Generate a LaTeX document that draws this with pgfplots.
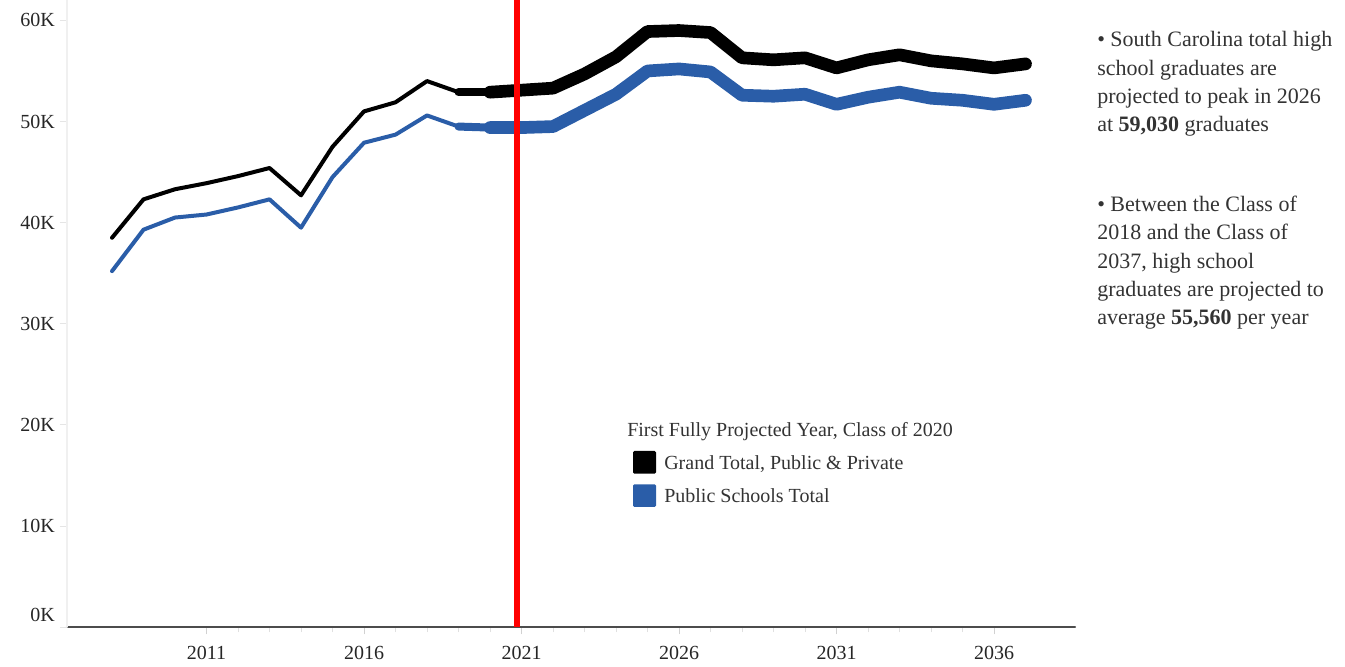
\documentclass[border=0pt]{standalone}
\usepackage{fontspec}
\setmainfont{Liberation Serif}
\usepackage{pgfplots}
\usepackage{pgfplotstable}
\pgfplotsset{compat=1.18}
\definecolor{pubblue}{RGB}{42,93,168}
\definecolor{projred}{RGB}{255,0,0}
\definecolor{txtgray}{RGB}{51,51,51}

% graduates in thousands
\pgfplotstableread{
year total public
2008 38.5 35.2
2009 42.3 39.3
2010 43.3 40.5
2011 43.9 40.8
2012 44.6 41.5
2013 45.4 42.3
2014 42.7 39.5
2015 47.5 44.5
2016 51.0 47.9
2017 51.9 48.7
2018 54.0 50.6
2019 52.9 49.5
2020 52.9 49.4
2021 53.1 49.4
2022 53.3 49.5
2023 54.7 51.1
2024 56.4 52.7
2025 58.9 55.0
2026 59.0 55.2
2027 58.8 54.9
2028 56.3 52.6
2029 56.1 52.5
2030 56.3 52.7
2031 55.3 51.7
2032 56.1 52.4
2033 56.6 52.9
2034 56.0 52.3
2035 55.7 52.1
2036 55.3 51.7
2037 55.7 52.1
}\gradtable

\newcommand{\tickfont}{\fontsize{15}{18}\selectfont}
\newcommand{\notefont}{\fontsize{16.5}{21.25}\selectfont}

\begin{document}
\begin{tikzpicture}
\begin{axis}[
  at={(0pt,0pt)}, anchor=south west,
  scale only axis, width=756pt, height=470.25pt,
  xmin=2006.571, xmax=2038.571, ymin=0, ymax=62.02,
  axis x line*=bottom, axis y line*=left,
  x axis line style={black!70, line width=1.6pt, -},
  y axis line style={black!6, line width=0.8pt, -},
  xtick={2011,2016,2021,2026,2031,2036},
  xticklabels={2011,2016,2021,2026,2031,2036},
  minor x tick num=4,
  ytick={10,20,30,40,50,60},
  yticklabels={10K,20K,30K,40K,50K,60K},
  extra y ticks={0}, extra y tick labels={0K},
  extra y tick style={yticklabel style={yshift=9pt}},
  tick align=outside,
  major tick length=5pt, minor tick length=3.5pt,
  xtick style={black!18, line width=0.6pt},
  minor x tick style={black!12},
  ytick style={black!10, line width=0.6pt},
  ticklabel style={font=\tickfont, text=black!85},
  xticklabel style={inner sep=0pt, anchor=north, yshift=-9pt},
  yticklabel style={inner sep=0pt, anchor=east, xshift=-4pt},
  clip=false,
  line join=round, line cap=round,
]
  % historical, thin
  \addplot[black, line width=3pt, restrict x to domain=2008:2020] table[x=year, y=total] {\gradtable};
  \addplot[pubblue, line width=3pt, restrict x to domain=2008:2020] table[x=year, y=public] {\gradtable};
  % transition
  \addplot[black, line width=6pt, restrict x to domain=2019:2020] table[x=year, y=total] {\gradtable};
  \addplot[pubblue, line width=6pt, restrict x to domain=2019:2020] table[x=year, y=public] {\gradtable};
  % projected, thick
  \addplot[black, line width=9.5pt, restrict x to domain=2020:2037] table[x=year, y=total] {\gradtable};
  \addplot[pubblue, line width=9.5pt, restrict x to domain=2020:2037] table[x=year, y=public] {\gradtable};
  % first fully projected year
  \addplot[projred, line width=4.3pt, line cap=butt] coordinates {(2020.86,0) (2020.86,62.02)};
\end{axis}

% legend
\node[anchor=base west, inner sep=0pt, font=\tickfont, text=txtgray] at (420pt,142.5pt) {First Fully Projected Year, Class of 2020};
\fill[black, rounded corners=1pt] (424.5pt,115pt) rectangle (441.75pt,132pt);
\fill[pubblue, rounded corners=1pt] (424.5pt,90pt) rectangle (441.75pt,107pt);
\node[anchor=base west, inner sep=0pt, font=\tickfont, text=txtgray] at (447.75pt,117.75pt) {Grand Total, Public \& Private};
\node[anchor=base west, inner sep=0pt, font=\tickfont, text=txtgray] at (447.75pt,93.2pt) {Public Schools Total};

% notes
\begin{scope}[every node/.style={anchor=base west, inner sep=0pt, font=\notefont, text=txtgray}]
  \node at (772.5pt,435.2pt) {\textbullet{} South Carolina total high};
  \node at (772.5pt,413.95pt) {school graduates are};
  \node at (772.5pt,392.7pt) {projected to peak in 2026};
  \node at (772.5pt,371.45pt) {at \textbf{59,030} graduates};
  \node at (772.5pt,311.5pt) {\textbullet{} Between the Class of};
  \node at (772.5pt,290.25pt) {2018 and the Class of};
  \node at (772.5pt,269pt) {2037, high school};
  \node at (772.5pt,247.75pt) {graduates are projected to};
  \node at (772.5pt,226.5pt) {average \textbf{55,560} per year};
\end{scope}

\pgfresetboundingbox
\useasboundingbox (-50.25pt,-30pt) rectangle (958.5pt,470.25pt);
\end{tikzpicture}
\end{document}
